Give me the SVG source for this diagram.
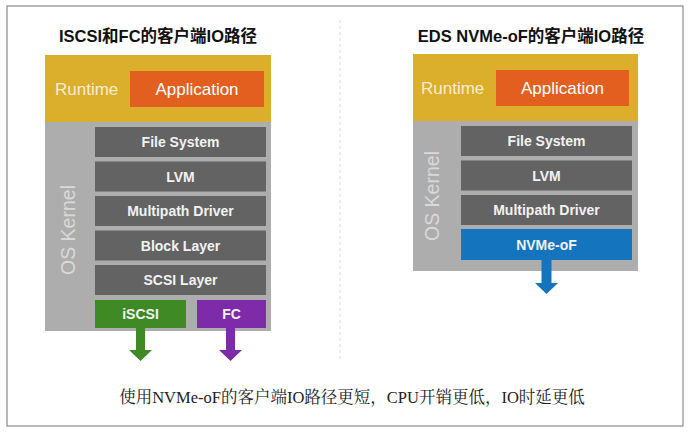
<svg xmlns="http://www.w3.org/2000/svg" width="693" height="436" viewBox="0 0 693 436">
<style>
.title{font-family:"Liberation Sans","Noto Sans CJK SC",sans-serif;font-weight:bold;font-size:16.5px;fill:#111;text-anchor:middle}
.rt{fill:#DBAE2C}
.rtl{font-family:"Liberation Sans",Arial,sans-serif;font-size:17px;fill:#F7EDCF}
.app{fill:#E25F20}
.appl{font-family:"Liberation Sans",Arial,sans-serif;font-size:17px;fill:#FFFFFF;text-anchor:middle}
.kern{fill:#ADADAD}
.kl{font-family:"Liberation Sans",Arial,sans-serif;font-size:19.5px;fill:#D9D9D9;text-anchor:middle}
.bar{fill:#636363}
.bl{font-family:"Liberation Sans",Arial,sans-serif;font-weight:bold;font-size:14px;fill:#F2F2F2;text-anchor:middle}
.cap{font-family:"Liberation Serif","Noto Serif CJK SC","Noto Sans CJK SC",serif;font-size:16.5px;fill:#222;text-anchor:middle}
</style>
<rect x="0" y="0" width="693" height="436" fill="#FFFFFF"/>
<rect x="7" y="6" width="676" height="420" fill="none" stroke="#8A8A8A" stroke-width="1.2"/>
<line x1="340" y1="20" x2="340" y2="360" stroke="#DDDDDD" stroke-width="1" stroke-dasharray="3,3"/>

<text class="title" x="158" y="42">ISCSI和FC的客户端IO路径</text>
<text class="title" x="531" y="42">EDS NVMe-oF的客户端IO路径</text>

<g id="left-runtime">
<rect class="rt" x="45" y="55" width="226" height="67"/>
<text class="rtl" x="55" y="95">Runtime</text>
</g>
<g id="left-application">
<rect class="app" x="130" y="71" width="134" height="36"/>
<text class="appl" x="197" y="95">Application</text>
</g>
<g id="left-kernel">
<rect class="kern" x="45" y="122" width="226" height="209"/>
<text class="kl" transform="translate(75,230) rotate(-90)">OS Kernel</text>
</g>
<g id="left-fs"><rect class="bar" x="95" y="127" width="171" height="30"/><text class="bl" x="180.5" y="147">File System</text></g>
<g id="left-lvm"><rect class="bar" x="95" y="161.5" width="171" height="30"/><text class="bl" x="180.5" y="181.5">LVM</text></g>
<g id="left-mp"><rect class="bar" x="95" y="196" width="171" height="30"/><text class="bl" x="180.5" y="216">Multipath Driver</text></g>
<g id="left-block"><rect class="bar" x="95" y="230.5" width="171" height="30"/><text class="bl" x="180.5" y="250.5">Block Layer</text></g>
<g id="left-scsi"><rect class="bar" x="95" y="265" width="171" height="30"/><text class="bl" x="180.5" y="285">SCSI Layer</text></g>
<g id="left-iscsi"><rect x="95" y="300" width="91" height="28" fill="#3F8A25"/><text class="bl" x="140.5" y="319">iSCSI</text></g>
<g id="left-fc"><rect x="197" y="300" width="69" height="28" fill="#7D2BA9"/><text class="bl" x="231.5" y="319">FC</text></g>

<g id="right-runtime">
<rect class="rt" x="413" y="54" width="225" height="67"/>
<text class="rtl" x="421" y="94">Runtime</text>
</g>
<g id="right-application">
<rect class="app" x="496" y="70" width="133" height="36"/>
<text class="appl" x="562.5" y="94">Application</text>
</g>
<g id="right-kernel">
<rect class="kern" x="413" y="121" width="225" height="150"/>
<text class="kl" transform="translate(439,196) rotate(-90)">OS Kernel</text>
</g>
<g id="right-fs"><rect class="bar" x="461" y="126" width="171" height="30"/><text class="bl" x="546.5" y="146">File System</text></g>
<g id="right-lvm"><rect class="bar" x="461" y="160.5" width="171" height="30"/><text class="bl" x="546.5" y="180.5">LVM</text></g>
<g id="right-mp"><rect class="bar" x="461" y="195" width="171" height="30"/><text class="bl" x="546.5" y="215">Multipath Driver</text></g>
<g id="right-nvme"><rect x="461" y="229" width="171" height="31" fill="#1475BE"/><text class="bl" x="546.5" y="249.5">NVMe-oF</text></g>

<g id="connectors">
<polygon fill="#3F8A25" points="136,328 145,328 145,350 152,350 140.5,361 129,350 136,350"/>
<polygon fill="#7D2BA9" points="226,328 235,328 235,350 242,350 230.5,361 219,350 226,350"/>
<polygon fill="#1475BE" points="541.5,260 551.5,260 551.5,283 558,283 546.5,294 535,283 541.5,283"/>
</g>

<text class="cap" x="352" y="403">使用NVMe-oF的客户端IO路径更短，CPU开销更低，IO时延更低</text>
</svg>
